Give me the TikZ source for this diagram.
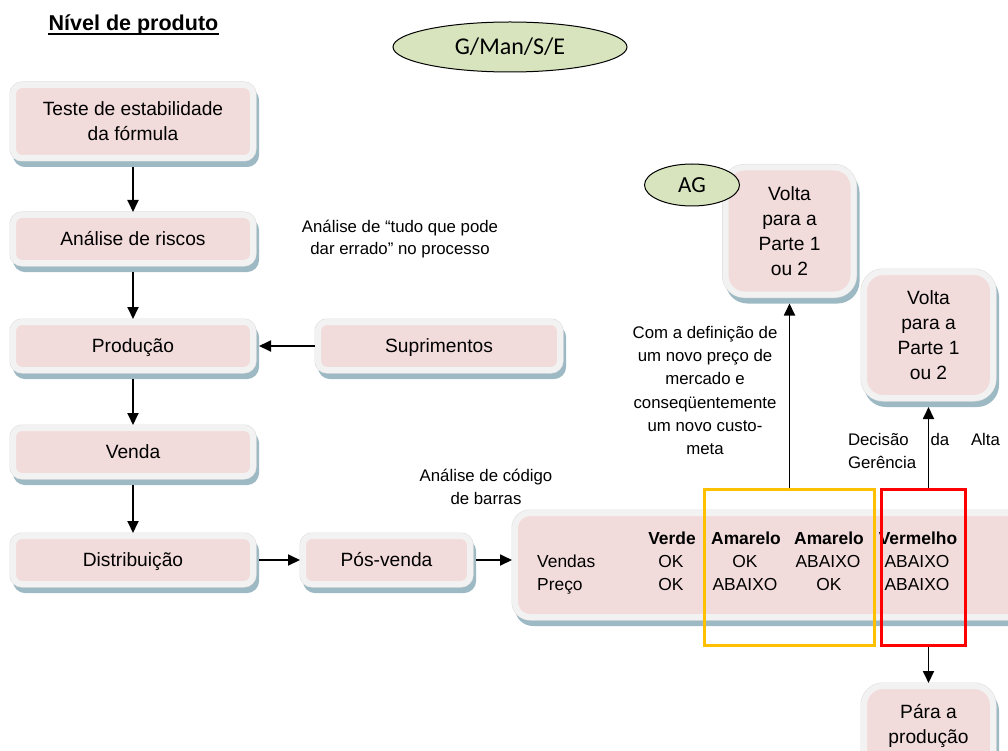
\documentclass[tikz,border=0pt]{standalone}
\usepackage{fontspec}
\setmainfont{Liberation Sans}
\newfontfamily\calibrifont{Carlito}
\usetikzlibrary{arrows.meta,shapes.geometric,shadows,calc}

\definecolor{boxpink}{HTML}{F2DCDB}
\definecolor{boxframe}{HTML}{F2F2F2}
\definecolor{frameedge}{HTML}{DCDCDC}
\definecolor{shadowblue}{HTML}{9DB9C4}
\definecolor{ovalgreen}{HTML}{D7E4BD}
\definecolor{amber}{HTML}{FFC000}
\definecolor{alertred}{HTML}{FF0000}

\begin{document}
\begin{tikzpicture}[x=1pt,y=-1pt,
  pbox/.style={rectangle, rounded corners=9pt, fill=boxpink, draw=boxframe, line width=6pt,
    drop shadow={shadow xshift=3pt, shadow yshift=-6pt, fill=shadowblue, draw=shadowblue, opacity=1},
    preaction={draw=frameedge, line width=7pt},
    font=\fontsize{19.2}{25}\selectfont, align=center, inner sep=0pt},
  stepbox/.style={pbox, minimum width=240pt, minimum height=48pt, text height=13.8pt, text depth=0pt},
  tallbox/.style={pbox, rounded corners=19pt, minimum width=128pt, minimum height=127pt},
  oval/.style={ellipse, draw, line width=1pt, fill=ovalgreen, inner sep=0pt},
  conn/.style={line width=1.8pt, -{Triangle[length=12pt,width=11pt]}},
  note/.style={align=center, inner sep=0pt, font=\fontsize{16.8}{22.5}\selectfont},
  cell/.style={anchor=base, inner sep=0pt, font=\fontsize{17.4}{21}\selectfont},
  head/.style={cell, font=\fontsize{17.4}{21}\selectfont\bfseries},
  frame/.style={draw=#1, line width=3pt, fill=none, inner sep=0pt}
]
\useasboundingbox (0,0) rectangle (1008,751);

% title
\node[font=\fontsize{21.5}{26}\selectfont\bfseries, anchor=base, inner sep=0pt] (title) at (133.5,31) {Nível de produto};
\draw[line width=1.8pt] ($(title.base west)+(0,3)$) -- ($(title.base east)+(0,3)$);

% responsibility oval
\node[oval, minimum width=234pt, minimum height=50pt, font=\calibrifont\fontsize{24}{28}\selectfont] (gman) at (510,47) {G/Man/S/E};

% main process column
\node[pbox, minimum width=240pt, minimum height=73pt] (teste) at (133,121.5) {Teste de estabilidade\\da fórmula};
\node[stepbox] (analise) at (133,239) {Análise de riscos};
\node[stepbox] (producao) at (133,346) {Produção};
\node[stepbox] (venda) at (133,452) {Venda};
\node[stepbox] (distrib) at (133,560) {Distribuição};
\node[stepbox, minimum width=242pt] (supr) at (439,346) {Suprimentos};
\node[stepbox, minimum width=167pt] (pos) at (386.5,560) {Pós-venda};

% result table box
\node[pbox, rounded corners=15pt, minimum width=600pt, minimum height=104pt] (tabela) at (815,565) {};

% outcome boxes
\node[tallbox] (volta1) at (789.5,231) {Volta\\para a\\Parte 1\\ou 2};
\node[tallbox, minimum width=129pt, minimum height=126pt] (volta2) at (928.5,335) {Volta\\para a\\Parte 1\\ou 2};
\node[tallbox, minimum width=129pt, minimum height=126pt] (para) at (928.5,749) {};
\node[align=center, inner sep=0pt, font=\fontsize{19.2}{25}\selectfont] (paratext) at (928.5,725.5) {Pára a\\produção};

\node[oval, minimum width=95pt, minimum height=42pt, font=\calibrifont\fontsize{23}{27}\selectfont] (ag) at (692,185) {AG};

% annotations
\node[note] (riscosnota) at (400,239) {Análise de “tudo que pode\\dar errado” no processo};
\node[note] (barrasnota) at (486,487) {Análise de código\\de barras};
\node[note, font=\fontsize{16.8}{23.2}\selectfont] (precoanota) at (705,390.5) {Com a definição de\\um novo preço de\\mercado e\\conseqüentemente\\um novo custo-\\meta};
\node[note, align=justify, text width=152pt] (decisao) at (924,451) {Decisão da Alta \mbox{Gerência}};

% table contents
\node[head] (hverde) at (672,544) {Verde};
\node[head] (hamar1) at (746,544) {Amarelo};
\node[head] (hamar2) at (829,544) {Amarelo};
\node[head] (hverm) at (918,544) {Vermelho};
\node[cell, anchor=base west] (lvendas) at (537,567) {Vendas};
\node[cell, anchor=base west] (lpreco) at (537,590) {Preço};
\node[cell] (v1) at (671,567) {OK};
\node[cell] (v2) at (745,567) {OK};
\node[cell] (v3) at (828,567) {ABAIXO};
\node[cell] (v4) at (917,567) {ABAIXO};
\node[cell] (p1) at (671,590) {OK};
\node[cell] (p2) at (745,590) {ABAIXO};
\node[cell] (p3) at (829,590) {OK};
\node[cell] (p4) at (917,590) {ABAIXO};

% highlight frames
\node[frame=amber, minimum width=170pt, minimum height=156pt] (amarelo) at (789.5,567.5) {};
\node[frame=alertred, minimum width=84pt, minimum height=156pt] (vermelho) at (923.5,567.5) {};

% connectors
\draw[conn, shorten <=6pt] (teste.south) -- (analise.north);
\draw[conn, shorten <=6pt] (analise.south) -- (producao.north);
\draw[conn, shorten <=6pt] (producao.south) -- (venda.north);
\draw[conn, shorten <=6pt] (venda.south) -- (distrib.north);
\draw[conn, shorten >=3pt] (supr.west) -- (producao.east);
\draw[conn, shorten <=3pt] (distrib.east) -- (pos.west);
\draw[conn, shorten <=3pt] (pos.east) -- (pos.east -| tabela.west);
\draw[conn, shorten >=6pt] (amarelo.north) -- (volta1.south);
\draw[conn, shorten >=6pt] (vermelho.north -| volta2.south) -- (volta2.south);
\draw[conn] (vermelho.south -| para.north) -- (para.north);
\end{tikzpicture}
\end{document}
